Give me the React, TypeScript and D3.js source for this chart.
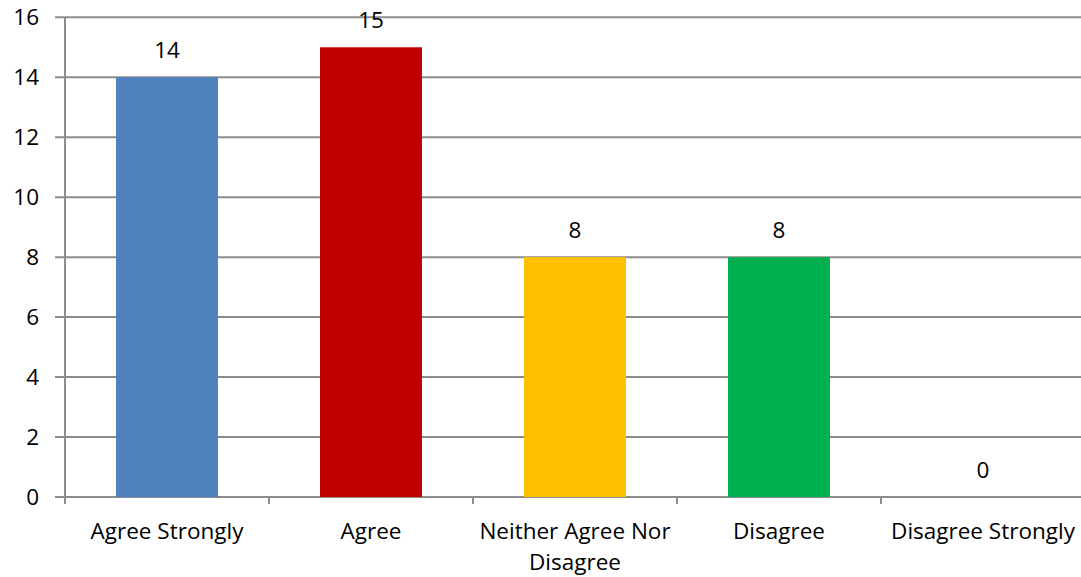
import React from "react";
import * as d3 from "d3";

const categories = ["Agree Strongly", "Agree", "Neither Agree Nor Disagree", "Disagree", "Disagree Strongly"];
const categoryLines = [["Agree Strongly"], ["Agree"], ["Neither Agree Nor", "Disagree"], ["Disagree"], ["Disagree Strongly"]];
const values = [14, 15, 8, 8, 0];
const colors = ["#4F81BD", "#C00000", "#FFC000", "#00B050", "#7F7F7F"];
const yTicks = [0, 2, 4, 6, 8, 10, 12, 14, 16];

const W = 1081;
const H = 577;
const left = 65;
const right = 1085;
const top = 17.3;
const bottom = 497;
const FONT = "'Open Sans', sans-serif";
const FS = 22.5;
const GRID = "#8C8C8C";

export default function App() {
  const x = d3.scaleBand<string>().domain(categories).range([left, right]).paddingInner(0).paddingOuter(0);
  const y = d3.scaleLinear().domain([0, 16]).range([bottom, top]);
  const bw = x.bandwidth();
  const barW = bw * 0.5;
  const boundaries = categories.map((c) => x(c) as number).concat([right]);

  return (
    <svg width={W} height={H} style={{ position: "absolute", left: 0, top: 0, background: "#fff" }}>
      {yTicks.map((t) => (
        <line key={"g" + t} x1={left - 10} x2={W} y1={y(t)} y2={y(t)} stroke={GRID} strokeWidth={2} />
      ))}
      <line x1={left} x2={left} y1={top} y2={bottom + 7} stroke={GRID} strokeWidth={2} />
      {yTicks.map((t) => (
        <text key={"yl" + t} x={39} y={y(t)} dy="0.36em" textAnchor="end" fontFamily={FONT} fontSize={FS} fill="#000">
          {t}
        </text>
      ))}
      {boundaries.map((b, i) => (
        <line key={"xt" + i} x1={b} x2={b} y1={bottom} y2={bottom + 7} stroke={GRID} strokeWidth={2} />
      ))}
      {categories.map((c, i) => {
        const cx = (x(c) as number) + bw / 2;
        return (
          <g key={c}>
            {values[i] > 0 && (
              <rect x={cx - barW / 2} y={y(values[i])} width={barW} height={y(0) - y(values[i])} fill={colors[i]} />
            )}
            <text x={cx} y={y(values[i]) - 19} textAnchor="middle" fontFamily={FONT} fontSize={FS} fill="#000">
              {values[i]}
            </text>
            {categoryLines[i].map((ln, j) => (
              <text key={j} x={cx} y={538.5 + j * 31} textAnchor="middle" fontFamily={FONT} fontSize={FS} fill="#000">
                {ln}
              </text>
            ))}
          </g>
        );
      })}
    </svg>
  );
}
